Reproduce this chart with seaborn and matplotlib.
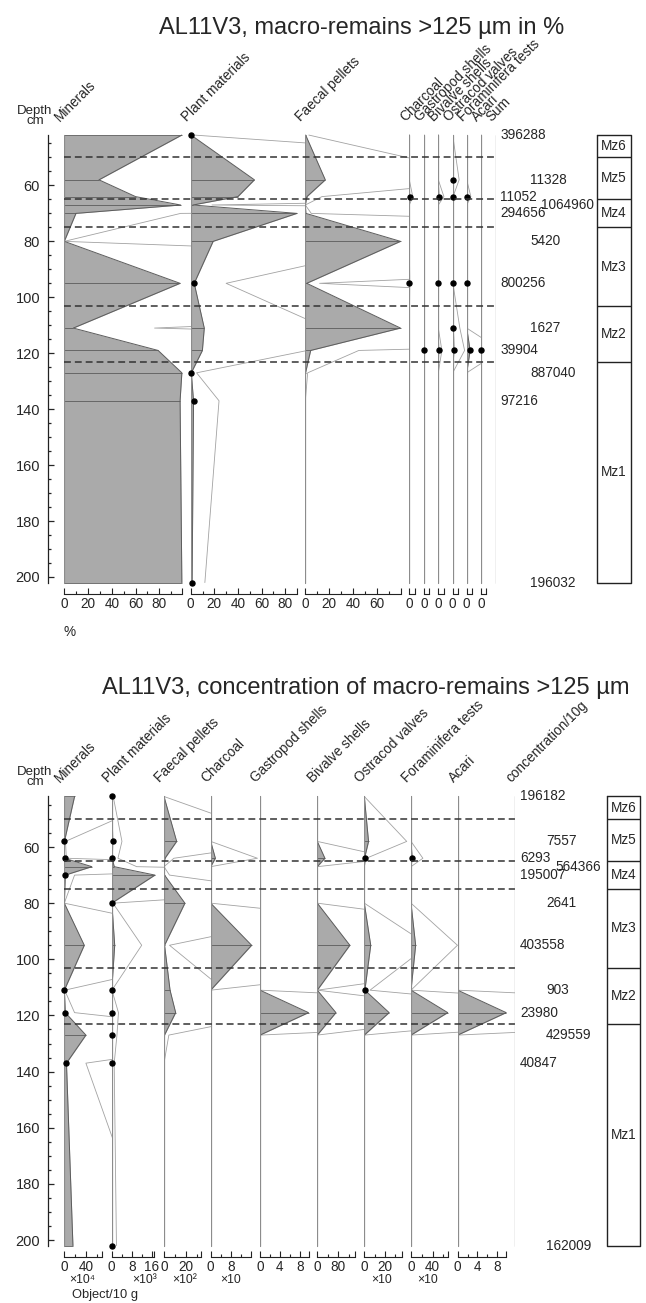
import pandas as pd
import seaborn as sns
import matplotlib.pyplot as plt

# sample depths (cm) and zone boundaries
depths = [42, 58, 64, 67, 70, 80, 95, 111, 119, 127, 137, 202]
zone_limits = [42, 50, 65, 75, 103, 123, 202]
zone_names = ['Mz6', 'Mz5', 'Mz4', 'Mz3', 'Mz2', 'Mz1']

# upper diagram: percentages
pct_minerals = [98.9, 29.2, 60, 98, 9.8, 0, 97.5, 7.6, 79, 99, 97.5, 99]
pct_plant = [0.3, 54, 40, 1.8, 90, 19, 3, 11.5, 9.9, 0.5, 2.4, 1.2]
pct_faecal = [0.3, 16.8, 1.4, 0, 0.5, 80, 1.2, 80, 4.5, 0.2, 0, 0]
pct_charcoal = [0, 0, 0.29, 0, 0, 0, 0.04, 0, 0, 0, 0, 0]
pct_gastropod = [0, 0, 0, 0, 0, 0, 0, 0, 0.04, 0, 0, 0]
pct_bivalve = [0, 0, 0.47, 0, 0, 0, 0.03, 0, 0.3, 0, 0, 0]
pct_ostracod = [0, 0.54, 0.03, 0, 0, 0, 0.015, 0.6, 1.0, 0, 0, 0]
pct_foram = [0, 0, 0.35, 0, 0, 0, 0.02, 0, 2.9, 0, 0, 0]
pct_acari = [0, 0, 0, 0, 0, 0, 0, 0, 0.04, 0, 0, 0]
pct_sum = [396288, 11328, 11052, 1064960, 294656, 5420, 800256, 1627, 39904, 887040, 97216, 196032]

# lower diagram: concentrations (axis units)
conc_minerals = [19, 0.22, 0.38, 51, 1.9, 0, 37, 0.07, 1.9, 40, 4, 16]
conc_plant = [0.06, 0.41, 0.25, 1.0, 17.3, 0.05, 1.2, 0.01, 0.27, 0.21, 0.1, 0.19]
conc_faecal = [0, 11.5, 0.9, 0, 0.5, 19, 0.5, 5.5, 10.6, 0.44, 0, 0]
conc_charcoal = [0, 0, 1.84, 0, 0, 0, 16.1, 0, 0, 0, 0, 0]
conc_gastropod = [0, 0, 0, 0, 0, 0, 0, 0, 9.7, 0, 0, 0]
conc_bivalve = [0, 0, 29, 0, 0, 0, 124, 0, 71, 0, 0, 0]
conc_ostracod = [0, 4.1, 0.2, 0, 0, 0, 6.2, 0.55, 24, 0, 0, 0]
conc_foram = [0, 0, 2.2, 0, 0, 0, 8.6, 0, 68, 0, 0, 0]
conc_acari = [0, 0, 0, 0, 0, 0, 0, 0, 9.9, 0, 0, 0]
conc_sum = [196182, 7557, 6293, 564366, 195007, 2641, 403558, 903, 23980, 429559, 40847, 162009]

# depths where small values are marked with a dot
top_dots = {'plant': [42, 95, 127, 137, 202], 'charcoal': [64, 95], 'gastropod': [119],
            'bivalve': [64, 95, 119], 'ostracod': [58, 64, 95, 111, 119],
            'foram': [64, 95, 119], 'acari': [119]}
bot_dots = {'minerals': [58, 64, 70, 111, 119, 137],
            'plant': [42, 58, 64, 80, 111, 119, 127, 137, 202],
            'ostracod': [64, 111], 'foram': [64]}

sns.set_style('white')
plt.rcParams['font.family'] = ['Liberation Sans', 'DejaVu Sans']

W, H = 646, 1303
fig = plt.figure(figsize=(W / 100, H / 100), dpi=100)

FILL = '#aaaaaa'
EDGE = '#5c5c5c'
THIN = '#a2a2a2'
ZERO = '#8c8c8c'
D0, D1 = 40, 204   # depth range of every axes
FS = 9.8           # base font size

top = dict(y0=17.6, k=2.797)
bot = dict(y0=678.6, k=2.807)


def ypx(block, d):
    return block['y0'] + block['k'] * d


def add_ax(block, x0, x1):
    t, b = ypx(block, D0), ypx(block, D1)
    ax = fig.add_axes([x0 / W, 1 - b / H, (x1 - x0) / W, (b - t) / H])
    ax.patch.set_alpha(0)
    for s in ax.spines.values():
        s.set_visible(False)
    ax.set_ylim(D1, D0)
    ax.set_yticks([])
    return ax


def panel(block, x0, x1, scale, vals, dots, end, labels, minor):
    ax = add_ax(block, x0, x1)
    df = pd.DataFrame({'depth': depths, 'value': vals})
    df['exag'] = df['value'] * 10
    # x10 exaggeration curve
    sns.lineplot(data=df, x='exag', y='depth', orient='y', sort=False, estimator=None,
                 color=THIN, lw=0.6, ax=ax)
    ax.fill_betweenx(df['depth'], 0, df['value'], color=FILL, lw=0)
    sns.lineplot(data=df, x='value', y='depth', orient='y', sort=False, estimator=None,
                 color=EDGE, lw=0.7, ax=ax)
    nz = df[df['value'] > 0]
    ax.hlines(nz['depth'], 0, nz['value'], color=EDGE, lw=0.6)
    ax.plot([0, 0], [depths[0], depths[-1]], color=ZERO, lw=0.9)
    if dots:
        dd = df[df['depth'].isin(dots)]
        ax.plot(dd['value'], dd['depth'], 'o', color='black', ms=3.6, clip_on=False, zorder=5)
    ax.set_xlim(0, (x1 - x0) / scale)
    ax.set_ylim(D1, D0)
    ax.set_xlabel('')
    ax.set_ylabel('')
    sp = ax.spines['bottom']
    sp.set_visible(True)
    sp.set_color('#222222')
    sp.set_linewidth(0.8)
    sp.set_position(('outward', 4.2))
    sp.set_bounds(0, end)
    ticks = list(labels) + ([end] if end not in labels else [])
    ax.set_xticks(ticks)
    ax.set_xticklabels([str(t) for t in labels] + [''] * (len(ticks) - len(labels)))
    ax.set_xticks(minor, minor=True)
    ax.tick_params(axis='x', which='major', direction='in', length=4, width=0.8,
                   pad=2.2, labelsize=FS, color='#222222', bottom=True)
    ax.tick_params(axis='x', which='minor', direction='in', length=2, width=0.8,
                   color='#222222', bottom=True)
    return ax


def depth_axis(block, x):
    ax = add_ax(block, x, x + 20)
    sp = ax.spines['left']
    sp.set_visible(True)
    sp.set_color('#222222')
    sp.set_linewidth(0.9)
    sp.set_bounds(42, 202)
    ax.set_yticks(range(60, 201, 20))
    ax.set_yticks([d for d in range(45, 201, 5) if d % 20 != 0], minor=True)
    ax.tick_params(axis='y', which='major', direction='in', length=4.2, width=0.9,
                   pad=5.5, labelsize=FS + 0.7, left=True)
    ax.tick_params(axis='y', which='minor', direction='in', length=2.4, width=0.9, left=True)
    ax.set_xticks([])


def zones(block, x0, x1):
    ax = add_ax(block, x0, x1)
    ax.set_xlim(0, 1)
    ax.set_ylim(D1, D0)
    ax.plot([0, 1, 1, 0, 0], [42, 42, 202, 202, 42], color='#222222', lw=1, clip_on=False)
    ax.hlines(zone_limits[1:-1], 0, 1, color='#222222', lw=1)
    for a, b, n in zip(zone_limits[:-1], zone_limits[1:], zone_names):
        ax.text(0.5, (a + b) / 2, n, ha='center', va='center', fontsize=FS)
    ax.set_xticks([])


def overlay(block, x0, x1):
    ax = add_ax(block, x0, x1)
    ax.set_xlim(x0, x1)
    ax.set_ylim(D1, D0)
    ax.hlines(zone_limits[1:-1], x0, x1, color='#333333', lw=1.1,
              linestyles=[(0, (4.5, 2.6))])
    ax.plot([x1, x1], [42, 202], color=ZERO, lw=0.9)
    ax.set_xticks([])


def header(block_y, x, s):
    fig.text((x - 4) / W, 1 - block_y / H, s, rotation=45, rotation_mode='anchor',
             ha='left', va='baseline', fontsize=FS)


def sums(block, vals, xl, xr, xs):
    for i, (d, v) in enumerate(zip(depths, vals)):
        x = xs if i == 3 else (xl if i % 2 == 0 else xr)
        fig.text(x / W, 1 - ypx(block, d) / H, str(v), ha='left', va='center', fontsize=FS)


# ---------------- upper diagram: percentages ----------------
fig.text(362 / W, 1 - 28 / H, 'AL11V3, macro-remains >125 µm in %', ha='center', va='center', fontsize=17)
fig.text(35 / W, 1 - 116 / H, 'Depth\ncm', ha='center', va='center', fontsize=FS - 0.3,
         linespacing=0.82)

small_x = [409.3, 424, 438.3, 452.7, 466.7, 481, 495.7]
panel(top, 64.3, 190.7, 1.1875, pct_minerals, None, 99, [0, 20, 40, 60, 80], [10, 30, 50, 70, 90])
panel(top, 190.7, 305.3, 1.18, pct_plant, top_dots['plant'], 90, [0, 20, 40, 60, 80], [10, 30, 50, 70])
panel(top, 305.3, 409.3, 1.19, pct_faecal, None, 80, [0, 20, 40, 60], [10, 30, 50, 70])
small_top = [('Charcoal', pct_charcoal, 'charcoal'), ('Gastropod shells', pct_gastropod, 'gastropod'),
             ('Bivalve shells', pct_bivalve, 'bivalve'), ('Ostracod valves', pct_ostracod, 'ostracod'),
             ('Foraminifera tests', pct_foram, 'foram'), ('Acari', pct_acari, 'acari')]
for i, (name, vals, key) in enumerate(small_top):
    panel(top, small_x[i], small_x[i + 1], 1.19, vals, top_dots.get(key), 4.5, [0], [])

for x, s in zip([64.3, 190.7, 305.3] + small_x,
                ['Minerals', 'Plant materials', 'Faecal pellets'] + [n for n, _, _ in small_top] + ['Sum']):
    header(122, x, s)

depth_axis(top, 47.7)
zones(top, 596.7, 630.7)
overlay(top, 64.3, 495.7)
sums(top, pct_sum, 500, 530, 541)
fig.text(70 / W, 1 - 632 / H, '%', ha='center', va='center', fontsize=FS)

# ---------------- lower diagram: concentrations ----------------
fig.text(366 / W, 1 - 688 / H, 'AL11V3, concentration of macro-remains >125 µm',
         ha='center', va='center', fontsize=17)
fig.text(35 / W, 1 - 777 / H, 'Depth\ncm', ha='center', va='center', fontsize=FS - 0.3,
         linespacing=0.82)

bot_x = [64.3, 111.7, 164, 210.7, 260, 317.3, 364.3, 411, 457.7, 515]
bot_cols = [('Minerals', conc_minerals, 'minerals', 0.54, 69, [0, 40], [20, 60]),
            ('Plant materials', conc_plant, 'plant', 2.5, 17, [0, 8, 16], [4, 12]),
            ('Faecal pellets', conc_faecal, 'faecal', 1.1, 34, [0, 20], [10, 30]),
            ('Charcoal', conc_charcoal, 'charcoal', 2.54, 16, [0, 8], [4, 12]),
            ('Gastropod shells', conc_gastropod, 'gastropod', 5.0, 9.7, [0, 4, 8], [2, 6]),
            ('Bivalve shells', conc_bivalve, 'bivalve', 0.2625, 144, [0, 80], [40, 120]),
            ('Ostracod valves', conc_ostracod, 'ostracod', 1.035, 36, [0, 20], [10, 30]),
            ('Foraminifera tests', conc_foram, 'foram', 0.54, 69, [0, 40], [20, 60]),
            ('Acari', conc_acari, 'acari', 4.9, 9.8, [0, 4, 8], [2, 6])]
for i, (name, vals, key, sc, end, labs, mins) in enumerate(bot_cols):
    panel(bot, bot_x[i], bot_x[i + 1], sc, vals, bot_dots.get(key), end, labs, mins)

for x, s in zip(bot_x, [c[0] for c in bot_cols] + ['concentration/10g']):
    header(783, x, s)

depth_axis(bot, 47.7)
zones(bot, 606.7, 640)
overlay(bot, 64.3, 515)
sums(bot, conc_sum, 520, 546, 555)

for x, s in [(82, '×10⁴'), (145, '×10³'), (185, '×10²'), (231, '×10'), (382, '×10'), (428, '×10')]:
    fig.text(x / W, 1 - 1280 / H, s, ha='center', va='center', fontsize=FS - 1)
fig.text(72 / W, 1 - 1295 / H, 'Object/10 g', ha='left', va='center', fontsize=FS - 0.5)

plt.savefig('out.png', dpi=100)
plt.close()
